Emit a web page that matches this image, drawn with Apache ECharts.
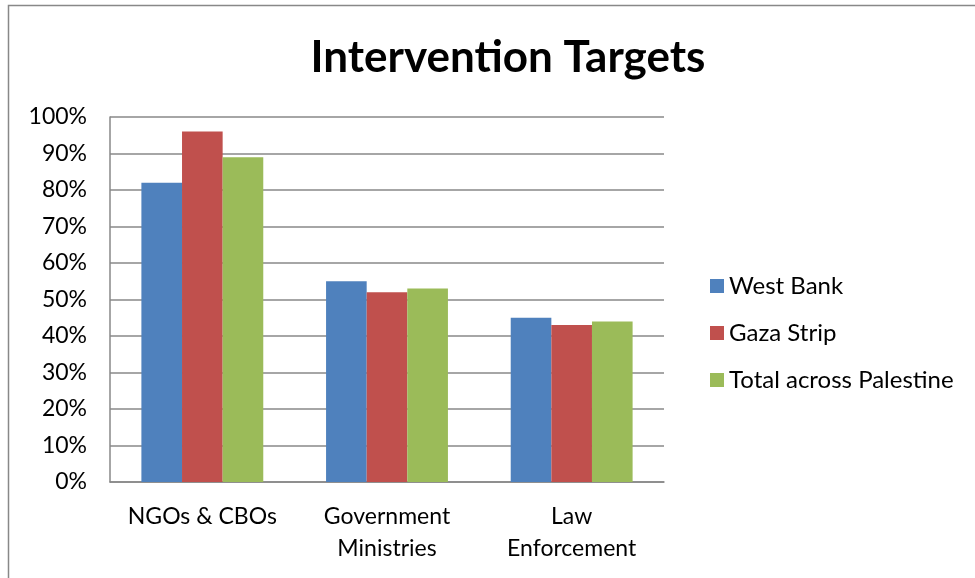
<!DOCTYPE html>
<html><head><meta charset="utf-8">
<script src="https://cdn.jsdelivr.net/npm/echarts@6/dist/echarts.min.js"></script>
<style>html,body{margin:0;padding:0;background:#fff}#c{width:975px;height:578px}</style>
</head><body><div id="c"></div>
<script>
const categories = ['NGOs & CBOs', 'Government\nMinistries', 'Law\nEnforcement'];
const westBank = [82, 55, 45];
const gazaStrip = [96, 52, 43];
const totalPalestine = [89, 53, 44];
const seriesNames = ['West Bank', 'Gaza Strip', 'Total across Palestine'];
const colors = ['#4F81BD', '#C0504D', '#9BBB59'];
const FONT = 'Lato, "Liberation Sans", sans-serif';

const chart = echarts.init(document.getElementById('c'));
const mk = (name, data, i) => ({
  name, type: 'bar', data, barGap: '0%', barCategoryGap: '34%',
  itemStyle: { color: colors[i] }
});
chart.setOption({
  animation: false,
  textStyle: { fontFamily: FONT },
  graphic: [{ type: 'rect', shape: { x: 8.5, y: 5.5, width: 980, height: 600 },
    style: { fill: 'none', stroke: '#888', lineWidth: 1.5 }, silent: true }],
  title: { text: 'Intervention Targets', left: 503, textAlign: 'center', top: 31,
    textStyle: { fontFamily: FONT, fontWeight: 'bold', fontSize: 44, color: '#000' } },
  legend: { orient: 'vertical', left: 705, top: 269, itemGap: 23, itemWidth: 14, itemHeight: 14,
    icon: 'rect', data: seriesNames,
    textStyle: { fontFamily: FONT, fontSize: 24, color: '#000', padding: [0, 0, 0, 0] } },
  grid: { left: 110, right: 311, top: 117, bottom: 96 },
  xAxis: { type: 'category', data: categories,
    axisLine: { lineStyle: { color: '#888', width: 1.5 } },
    axisTick: { show: false },
    axisLabel: { interval: 0, hideOverlap: false, fontFamily: FONT, fontSize: 23, color: '#000', margin: 19, lineHeight: 32 } },
  yAxis: { type: 'value', min: 0, max: 100, interval: 10,
    axisLine: { show: true, lineStyle: { color: '#888', width: 1.5 } },
    axisTick: { show: false },
    splitLine: { lineStyle: { color: '#888', width: 1.5 } },
    axisLabel: { formatter: '{value}%', fontFamily: FONT, fontSize: 23, color: '#000', margin: 23 } },
  series: [mk(seriesNames[0], westBank, 0), mk(seriesNames[1], gazaStrip, 1), mk(seriesNames[2], totalPalestine, 2)]
});
</script></body></html>
